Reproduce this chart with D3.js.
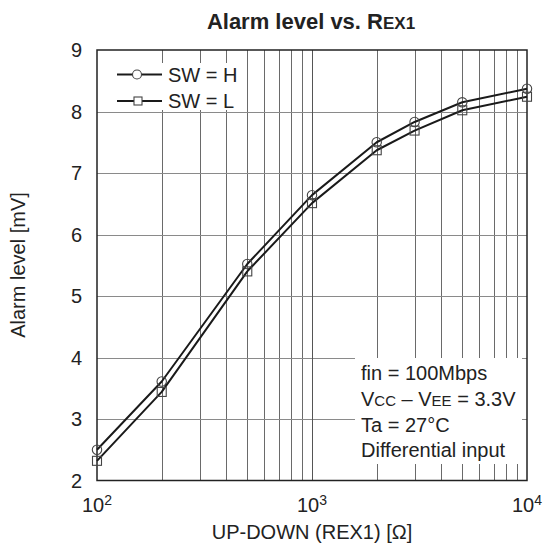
<!DOCTYPE html>
<html><head><meta charset="utf-8">
<script src="https://cdn.jsdelivr.net/npm/d3@7"></script>
<style>
body{margin:0;background:#fff;}
svg text{font-family:"Liberation Sans",Arial,sans-serif;fill:#222;}
</style></head>
<body><svg id="c" width="545" height="545"></svg>
<script>
const resistance = [100, 200, 500, 1000, 2000, 3000, 5000, 10000];
const swH = [2.50, 3.61, 5.52, 6.64, 7.50, 7.83, 8.15, 8.37];
const swL = [2.32, 3.44, 5.40, 6.51, 7.37, 7.69, 8.02, 8.24];
const xTickValues = [100, 1000, 10000];
const xTickExponents = ["2", "3", "4"];
const yTickValues = [2, 3, 4, 5, 6, 7, 8, 9];
const seriesNames = ["SW = H", "SW = L"];

const svg = d3.select("#c");
svg.append("rect").attr("width",545).attr("height",545).attr("fill","#fff");
const L=97, R=527, T=50, B=480.5;
const x = d3.scaleLog().domain([100,10000]).range([L,R]);
const y = d3.scaleLinear().domain([2,9]).range([B,T]);

// grid
const minor = [];
for (let d of [100,1000]) for (let k=2;k<=9;k++) minor.push(d*k);
const g = svg.append("g");
g.selectAll("line.vx").data(minor).join("line")
  .attr("x1",d=>Math.round(x(d))+0.5).attr("x2",d=>Math.round(x(d))+0.5)
  .attr("y1",T).attr("y2",B).attr("stroke","#6a6a6a").attr("stroke-width",1);
g.selectAll("line.hy").data(yTickValues.slice(1,-1)).join("line")
  .attr("y1",d=>Math.round(y(d))+0.5).attr("y2",d=>Math.round(y(d))+0.5)
  .attr("x1",L).attr("x2",R).attr("stroke","#8a8a8a").attr("stroke-width",1);
g.selectAll("line.mx").data([1000]).join("line")
  .attr("x1",d=>Math.round(x(d))+0.5).attr("x2",d=>Math.round(x(d))+0.5)
  .attr("y1",T).attr("y2",B).attr("stroke","#555").attr("stroke-width",1);

// white boxes (legend & annotation)
svg.append("rect").attr("x",99).attr("y",63).attr("width",142).attr("height",47).attr("fill","#fff");
svg.append("rect").attr("x",355).attr("y",358).attr("width",167).attr("height",106).attr("fill","#fff");

// frame
svg.append("rect").attr("x",L).attr("y",T).attr("width",R-L).attr("height",B-T)
  .attr("fill","none").attr("stroke","#222").attr("stroke-width",1.5);

// axes labels
const xl = svg.append("g");
xTickValues.forEach((v,i)=>{
  const t = xl.append("text").attr("x",x(v)).attr("y",512).attr("text-anchor","middle").attr("font-size",20);
  t.append("tspan").text("10");
  t.append("tspan").attr("dy",-7).attr("font-size",14).text(xTickExponents[i]);
});
svg.append("g").selectAll("text").data(yTickValues).join("text")
  .attr("x",82).attr("y",d=>y(d)).attr("dy","0.36em").attr("text-anchor","end")
  .attr("font-size",20).text(d=>d);

svg.append("text").attr("x",312).attr("y",539).attr("text-anchor","middle").attr("font-size",20)
  .text("UP-DOWN (REX1) [Ω]");
svg.append("text").attr("transform","translate(25,265) rotate(-90)").attr("text-anchor","middle")
  .attr("font-size",20).text("Alarm level [mV]");

const title = svg.append("text").attr("x",311).attr("y",29).attr("text-anchor","middle")
  .attr("font-size",22).attr("font-weight","bold");
title.append("tspan").text("Alarm level vs. R");
title.append("tspan").attr("font-size",17).text("EX1");

// series
const line = d3.line().x(d=>x(d[0])).y(d=>y(d[1]));
const series = [swH, swL];
series.forEach((vals,si)=>{
  const pts = resistance.map((r,i)=>[r,vals[i]]);
  svg.append("path").datum(pts).attr("d",line).attr("fill","none")
    .attr("stroke","#1a1a1a").attr("stroke-width",2).attr("stroke-linejoin","round");
  if (si===0) {
    svg.append("g").selectAll("circle").data(pts).join("circle")
      .attr("cx",d=>x(d[0])).attr("cy",d=>y(d[1])).attr("r",4.7)
      .attr("fill","none").attr("stroke","#444").attr("stroke-width",1.1);
  } else {
    svg.append("g").selectAll("rect").data(pts).join("rect")
      .attr("x",d=>x(d[0])-4.5).attr("y",d=>y(d[1])-4.5).attr("width",9).attr("height",9)
      .attr("fill","none").attr("stroke","#444").attr("stroke-width",1.1);
  }
});

// legend
const lg = svg.append("g");
[74.5,101].forEach((ly,i)=>{
  lg.append("line").attr("x1",117).attr("x2",162).attr("y1",ly).attr("y2",ly).attr("stroke","#1a1a1a").attr("stroke-width",2);
  if (i===0) lg.append("circle").attr("cx",137).attr("cy",ly).attr("r",4.5).attr("fill","#fff").attr("stroke","#444").attr("stroke-width",1.1);
  else lg.append("rect").attr("x",134).attr("y",ly-4).attr("width",8).attr("height",8).attr("fill","#fff").attr("stroke","#444").attr("stroke-width",1.1);
  lg.append("text").attr("x",168).attr("y",ly+7).attr("font-size",20).text(seriesNames[i]);
});

// annotation
const ann = svg.append("g").attr("font-size",20);
ann.append("text").attr("x",361).attr("y",380).text("fin = 100Mbps");
const v = ann.append("text").attr("x",361).attr("y",405.5);
v.append("tspan").text("V"); v.append("tspan").attr("font-size",15).text("CC");
v.append("tspan").text(" – V"); v.append("tspan").attr("font-size",15).text("EE");
v.append("tspan").text(" = 3.3V");
ann.append("text").attr("x",361).attr("y",431.5).text("Ta = 27°C");
ann.append("text").attr("x",361).attr("y",457).text("Differential input");
</script></body></html>
